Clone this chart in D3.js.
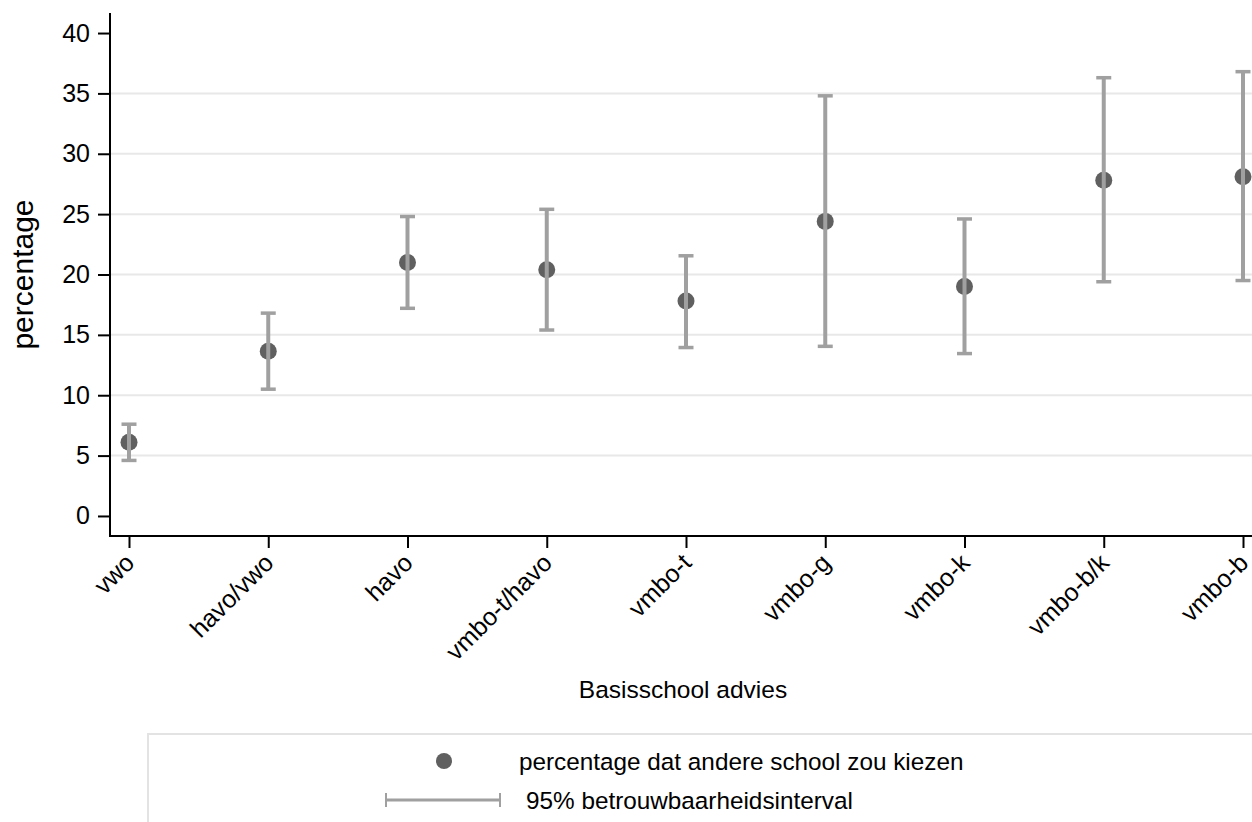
<!DOCTYPE html>
<html>
<head>
<meta charset="utf-8">
<script src="https://cdn.jsdelivr.net/npm/d3@7"></script>
<style>
  html, body { margin: 0; padding: 0; background: #fff; }
  svg { display: block; font-family: "Liberation Sans", Arial, sans-serif; }
</style>
</head>
<body>
<svg id="chart" width="1252" height="822"></svg>
<script>
// ---- data ----
const categories = ["vwo", "havo/vwo", "havo", "vmbo-t/havo", "vmbo-t", "vmbo-g", "vmbo-k", "vmbo-b/k", "vmbo-b"];
const percentage = [6.1, 13.65, 21.0, 20.4, 17.8, 24.4, 19.0, 27.8, 28.1];
const ciLower    = [4.6, 10.5, 17.2, 15.4, 13.95, 14.05, 13.45, 19.4, 19.5];
const ciUpper    = [7.6, 16.8, 24.8, 25.4, 21.55, 34.8, 24.6, 36.3, 36.8];
const yTicks     = [0, 5, 10, 15, 20, 25, 30, 35, 40];
const gridValues = [5, 10, 15, 20, 25, 30, 35];
const xTitle = "Basisschool advies";
const yTitle = "percentage";
const legendLabels = ["percentage dat andere school zou kiezen", "95% betrouwbaarheidsinterval"];

// ---- layout ----
const svg = d3.select("#chart");
const plotLeft = 110, plotRight = 1252, plotTop = 13, plotBottom = 536;
const pointColor = "#606060", ciColor = "#a0a0a0", gridColor = "#e8e8e8";
const font = "Liberation Sans, Arial, sans-serif";

const x = d3.scalePoint().domain(categories).range([129, 1243]);
const y = d3.scaleLinear().domain([-1.66, 41.66]).range([plotBottom, plotTop]);

// gridlines
svg.append("g").selectAll("line").data(gridValues).join("line")
  .attr("x1", plotLeft).attr("x2", plotRight)
  .attr("y1", d => y(d)).attr("y2", d => y(d))
  .attr("stroke", gridColor).attr("stroke-width", 2);

// y axis
const yAxis = d3.axisLeft(y).tickValues(yTicks).tickSize(12).tickPadding(8).tickFormat(d3.format("d"));
const gy = svg.append("g").attr("transform", `translate(${plotLeft},0)`).call(yAxis);
gy.select(".domain").remove();
gy.selectAll(".tick line").attr("stroke", "#000").attr("stroke-width", 2);
gy.selectAll(".tick text").attr("font-size", 25).attr("fill", "#000").attr("font-family", font);
svg.append("line").attr("x1", plotLeft).attr("x2", plotLeft)
  .attr("y1", plotTop).attr("y2", plotBottom + 1)
  .attr("stroke", "#000").attr("stroke-width", 2);

// x axis
const xAxis = d3.axisBottom(x).tickSize(12).tickPadding(4);
const gx = svg.append("g").attr("transform", `translate(0,${plotBottom})`).call(xAxis);
gx.select(".domain").remove();
gx.selectAll(".tick line").attr("stroke", "#000").attr("stroke-width", 2);
gx.selectAll(".tick text")
  .attr("font-size", 25).attr("fill", "#000").attr("font-family", font)
  .attr("text-anchor", "end")
  .attr("dy", "0.7em")
  .attr("transform", "translate(-6,16) rotate(-45)")
  .attr("y", 0).attr("x", 0);
svg.append("line").attr("x1", plotLeft - 1).attr("x2", plotRight)
  .attr("y1", plotBottom).attr("y2", plotBottom)
  .attr("stroke", "#000").attr("stroke-width", 2);

const idx = d3.range(categories.length);

// points (drawn first; the CI line runs over the dot in the reference)
svg.append("g").selectAll("circle").data(idx).join("circle")
  .attr("cx", i => x(categories[i])).attr("cy", i => y(percentage[i]))
  .attr("r", 8.5).attr("fill", pointColor);

// error bars
const eb = svg.append("g");
eb.selectAll("line.v").data(idx).join("line").attr("class", "v")
  .attr("x1", i => x(categories[i])).attr("x2", i => x(categories[i]))
  .attr("y1", i => y(ciLower[i])).attr("y2", i => y(ciUpper[i]))
  .attr("stroke", ciColor).attr("stroke-width", 4);
eb.selectAll("line.lo").data(idx).join("line").attr("class", "lo")
  .attr("x1", i => x(categories[i]) - 7.5).attr("x2", i => x(categories[i]) + 7.5)
  .attr("y1", i => y(ciLower[i])).attr("y2", i => y(ciLower[i]))
  .attr("stroke", ciColor).attr("stroke-width", 3.5);
eb.selectAll("line.hi").data(idx).join("line").attr("class", "hi")
  .attr("x1", i => x(categories[i]) - 7.5).attr("x2", i => x(categories[i]) + 7.5)
  .attr("y1", i => y(ciUpper[i])).attr("y2", i => y(ciUpper[i]))
  .attr("stroke", ciColor).attr("stroke-width", 3.5);

// axis titles
svg.append("text").attr("x", 683).attr("y", 698)
  .attr("text-anchor", "middle").attr("font-size", 24.5).attr("fill", "#000").text(xTitle);
svg.append("text").attr("transform", `translate(33,${(plotTop + plotBottom) / 2}) rotate(-90)`)
  .attr("text-anchor", "middle").attr("font-size", 30).attr("fill", "#000").text(yTitle);

// legend
svg.append("rect").attr("x", 148).attr("y", 734).attr("width", 1200).attr("height", 200)
  .attr("fill", "none").attr("stroke", "#e3e3e3").attr("stroke-width", 2);
const lg = svg.append("g");
lg.append("circle").attr("cx", 444).attr("cy", 761).attr("r", 8).attr("fill", pointColor);
lg.append("text").attr("x", 519).attr("y", 761).attr("dy", "0.35em")
  .attr("font-size", 24.3).attr("fill", "#000").text(legendLabels[0]);
lg.append("line").attr("x1", 386).attr("x2", 500).attr("y1", 800).attr("y2", 800)
  .attr("stroke", ciColor).attr("stroke-width", 3);
[386, 500].forEach(px => lg.append("line").attr("x1", px).attr("x2", px)
  .attr("y1", 793).attr("y2", 807).attr("stroke", ciColor).attr("stroke-width", 2));
lg.append("text").attr("x", 526).attr("y", 800).attr("dy", "0.35em")
  .attr("font-size", 24.3).attr("fill", "#000").text(legendLabels[1]);
</script>
</body>
</html>
